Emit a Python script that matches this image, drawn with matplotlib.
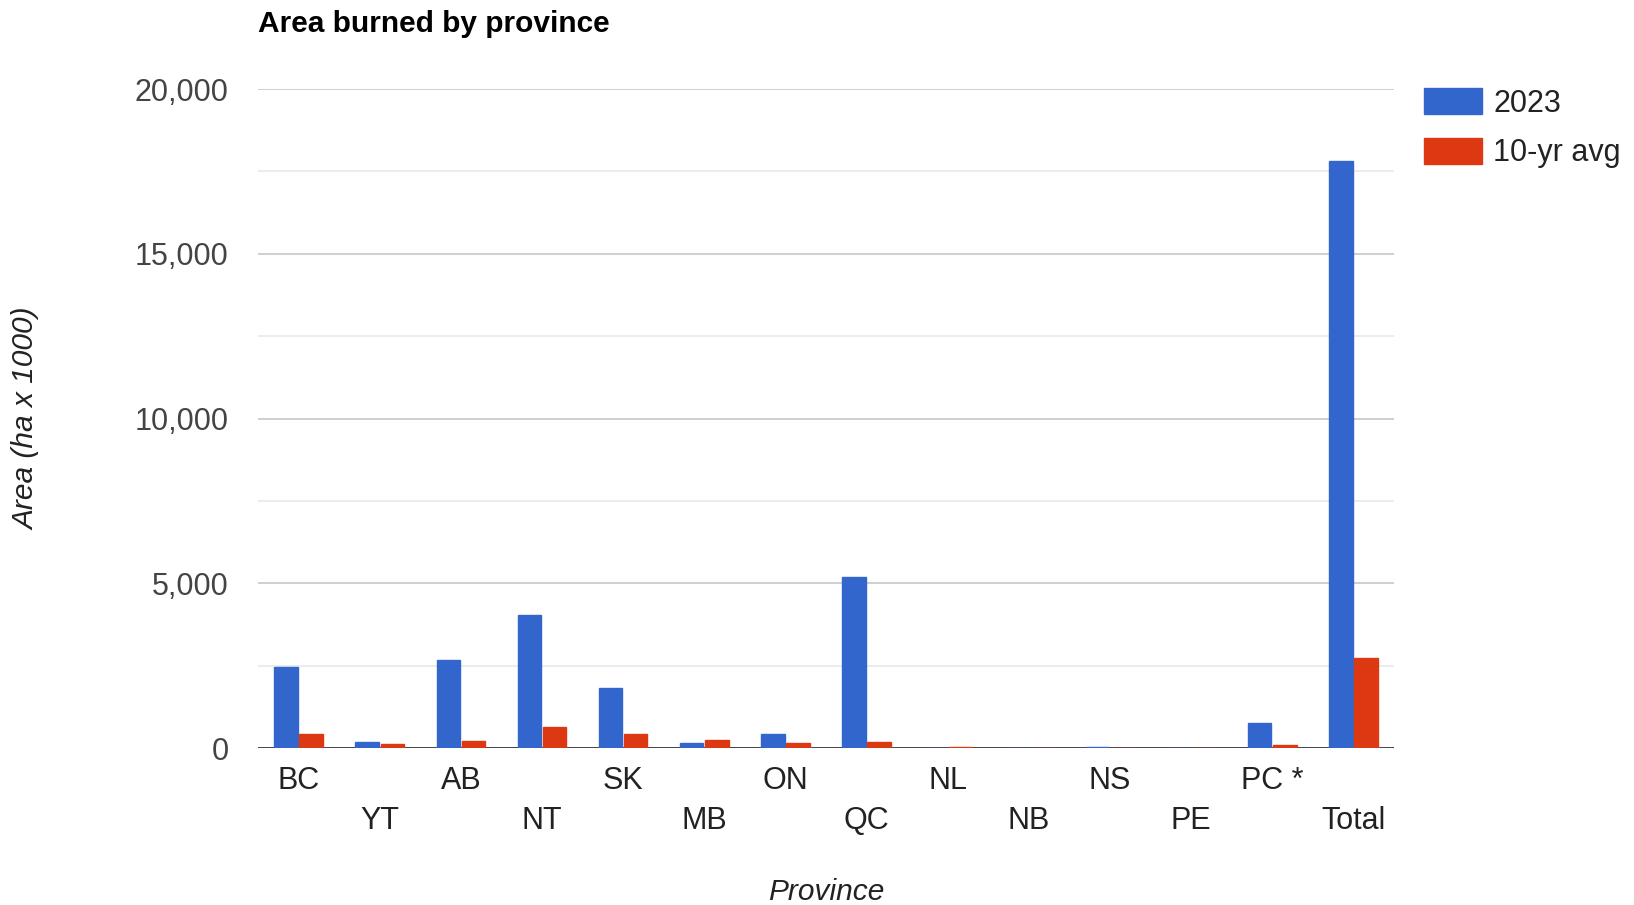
import matplotlib
matplotlib.use("Agg")
import matplotlib.pyplot as plt
import numpy as np

# ---- data ----
provinces = ["BC", "YT", "AB", "NT", "SK", "MB", "ON", "QC", "NL", "NB", "NS", "PE", "PC *", "Total"]
area_2023 = [2470, 175, 2665, 4050, 1810, 165, 430, 5200, 15, 1, 25, 1, 750, 17820]
area_avg10 = [430, 125, 225, 630, 430, 235, 155, 185, 20, 0.5, 1, 0.2, 100, 2740]
series_names = ["2023", "10-yr avg"]
y_major = [0, 5000, 10000, 15000, 20000]
y_major_labels = ["0", "5,000", "10,000", "15,000", "20,000"]
y_minor = [2500, 7500, 12500, 17500]

W, H = 1634, 905
fig = plt.figure(figsize=(W / 100, H / 100), dpi=100)
plt.rcParams['font.family'] = ['Liberation Sans', 'DejaVu Sans']

L, R, T, B = 258, 1394, 89, 748
ax = fig.add_axes([L / W, 1 - B / H, (R - L) / W, (B - T) / H])

n = len(provinces)
x = np.arange(n)
bw = 0.29
off = 0.155
blue = "#3366cc"
red = "#dc3912"

for yv in y_major[1:]:
    ax.axhline(yv, color="#cccccc", lw=1.3, zorder=1)
for yv in y_minor:
    ax.axhline(yv, color="#ebebeb", lw=1.3, zorder=1)

ax.bar(x - off, area_2023, bw, color=blue, edgecolor=blue, lw=1.0, zorder=3, label=series_names[0])
ax.bar(x + off, area_avg10, bw, color=red, edgecolor=red, lw=1.0, zorder=3, label=series_names[1])
ax.axhline(0, color="#333333", lw=2, zorder=2)

ax.set_xlim(-0.5, n - 0.5)
ax.set_ylim(0, 20000)
for s in ax.spines.values():
    s.set_visible(False)

FS = 22
ax.set_yticks(y_major)
ax.set_yticklabels(y_major_labels, fontsize=FS, color="#444444")
ax.tick_params(axis="y", length=0, pad=21)

xl = [p if i % 2 == 0 else "\n" + p for i, p in enumerate(provinces)]
ax.set_xticks(x)
ax.set_xticklabels(xl, fontsize=FS, color="#222222")
ax.tick_params(axis="x", length=0, pad=13)
for t in ax.get_xticklabels():
    t.set_linespacing(1.45)

fig.text(L / W, 1 - 32 / H, "Area burned by province", fontsize=21.5, fontweight="bold",
         color="#000000", ha="left", va="baseline")
fig.text((L + R) / 2 / W, 1 - 900 / H, "Province", fontsize=21.5, style="italic",
         color="#222222", ha="center", va="baseline")
fig.text(26 / W, (H - (T + B) / 2) / H, "Area (ha x 1000)", fontsize=21.5, style="italic",
         color="#222222", ha="center", va="center", rotation=90)

leg = ax.legend(loc="upper left", bbox_to_anchor=(1424 / W, 1 - 88 / H), bbox_transform=fig.transFigure,
                frameon=False, fontsize=FS, handlelength=1.9, handleheight=0.95,
                handletextpad=0.37, labelspacing=0.62, borderpad=0, borderaxespad=0)
for t in leg.get_texts():
    t.set_color("#222222")

fig.savefig("out.png", dpi=100)
